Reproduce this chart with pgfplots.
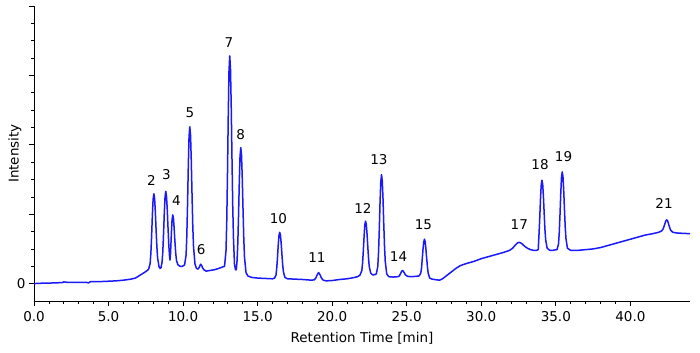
\documentclass[border=0pt]{standalone}
\usepackage{fontspec}
\setmainfont{DejaVu Sans}
\usepackage{pgfplots}
\pgfplotsset{compat=1.18}
\begin{document}
\begin{tikzpicture}
\begin{axis}[
  scale only axis, width=656bp, height=295bp,
  xmin=0, xmax=44, ymin=-0.25, ymax=4,
  axis lines*=left,
  axis line style={line width=0.7pt},
  tick style={line width=0.7pt, black},
  tick align=outside,
  major tick length=5bp, minor tick length=3bp,
  xtick={0,5,...,40}, minor x tick num=4,
  ytick={0,1,2,3,4}, yticklabels={0,,,,}, minor y tick num=3,
  /pgf/number format/assume math mode=true,
  tick label style={font=\fontsize{13.5bp}{15bp}\selectfont},
  xticklabel style={yshift=-1.5bp, /pgf/number format/.cd, fixed, fixed zerofill, precision=1},
  label style={font=\fontsize{13.5bp}{15bp}\selectfont},
  xlabel={Retention Time [min]},
  ylabel={Intensity},
  ylabel style={at={(axis description cs:-0.029,0.5)}, anchor=center},
  xlabel style={yshift=-4bp},
  clip=false,
]
\addplot[color={rgb,255:red,25;green,25;blue,250}, line width=1.5bp, line join=round] coordinates {
(0,0.0) (0.3,0.005) (1.0,0.008) (1.9,0.015) (2.0,0.025) (2.2,0.02) (3.0,0.02) (3.5,0.02) (3.65,0.01) (3.8,0.03) (4.5,0.03) (5.0,0.035) (5.5,0.04) (6.0,0.05) (6.5,0.065) (6.8,0.08) (7.1,0.12) (7.4,0.16) (7.6,0.19)
(7.69,0.21) (7.79,0.29) (7.84,0.44) (7.89,0.69) (7.94,0.99) (7.99,1.22) (8.04,1.295) (8.09,1.23) (8.14,1.03) (8.19,0.77) (8.24,0.54) (8.29,0.37) (8.39,0.24) (8.46,0.22)
(8.52,0.23) (8.59,0.31) (8.64,0.46) (8.69,0.72) (8.74,1.02) (8.79,1.25) (8.84,1.33) (8.89,1.25) (8.94,1.06) (8.99,0.8) (9.04,0.56) (9.09,0.4) (9.12,0.34)
(9.16,0.44) (9.21,0.7) (9.26,0.92) (9.31,0.99) (9.36,0.93) (9.41,0.76) (9.46,0.58) (9.51,0.43) (9.56,0.33) (9.66,0.27) (9.8,0.25) (9.95,0.25)
(10.1,0.27) (10.2,0.41) (10.25,0.69) (10.3,1.15) (10.35,1.7) (10.4,2.12) (10.45,2.26) (10.5,2.14) (10.55,1.77) (10.6,1.28) (10.65,0.83) (10.7,0.53) (10.8,0.28) (10.9,0.22) (11.0,0.21)
(11.1,0.24) (11.15,0.27) (11.19,0.28) (11.25,0.26) (11.3,0.23) (11.4,0.2) (11.55,0.18) (11.8,0.19) (12.1,0.2) (12.4,0.22) (12.65,0.24)
(12.78,0.25) (12.88,0.48) (12.93,0.91) (12.98,1.61) (13.03,2.43) (13.08,3.07) (13.13,3.28) (13.18,3.09) (13.23,2.54) (13.28,1.8) (13.33,1.12) (13.38,0.65) (13.45,0.27) (13.52,0.2)
(13.57,0.2) (13.62,0.33) (13.67,0.58) (13.72,0.99) (13.77,1.46) (13.82,1.84) (13.87,1.96) (13.92,1.85) (13.97,1.51) (14.02,1.07) (14.07,0.66) (14.12,0.38) (14.22,0.16) (14.35,0.11) (14.6,0.09) (15.0,0.08) (15.5,0.075) (16.0,0.07)
(16.13,0.08) (16.23,0.12) (16.28,0.22) (16.33,0.37) (16.38,0.55) (16.43,0.69) (16.48,0.74) (16.53,0.7) (16.58,0.58) (16.63,0.42) (16.68,0.27) (16.73,0.17) (16.83,0.09) (17.0,0.07) (17.5,0.065) (18.0,0.06) (18.6,0.05)
(18.8,0.055) (18.9,0.08) (19.0,0.13) (19.09,0.16) (19.18,0.13) (19.28,0.08) (19.4,0.05) (19.6,0.04) (20.0,0.045) (20.5,0.06) (21.0,0.07) (21.4,0.085) (21.7,0.1) (21.85,0.12)
(21.9,0.14) (21.99,0.19) (22.04,0.3) (22.09,0.48) (22.14,0.68) (22.19,0.85) (22.24,0.9) (22.29,0.85) (22.34,0.71) (22.39,0.53) (22.44,0.36) (22.49,0.24) (22.59,0.15) (22.72,0.125)
(22.86,0.13) (22.96,0.14) (23.06,0.25) (23.11,0.45) (23.16,0.78) (23.21,1.17) (23.26,1.47) (23.31,1.57) (23.36,1.48) (23.41,1.22) (23.46,0.86) (23.51,0.54) (23.56,0.32) (23.66,0.14) (23.8,0.1) (24.1,0.095) (24.4,0.1)
(24.5,0.11) (24.6,0.15) (24.66,0.18) (24.72,0.19) (24.8,0.17) (24.9,0.13) (25.05,0.105) (25.3,0.1) (25.6,0.105) (25.8,0.11)
(25.84,0.115) (25.94,0.15) (25.99,0.22) (26.04,0.35) (26.09,0.49) (26.14,0.6) (26.19,0.64) (26.24,0.6) (26.29,0.49) (26.34,0.36) (26.39,0.24) (26.44,0.15) (26.54,0.08) (26.7,0.065) (27.0,0.055) (27.2,0.05)
(27.4,0.07) (27.7,0.12) (28.0,0.17) (28.3,0.22) (28.6,0.26) (29.0,0.29) (29.5,0.32) (30.0,0.36) (30.5,0.39) (31.0,0.42) (31.5,0.45) (31.9,0.48)
(32.1,0.51) (32.3,0.56) (32.45,0.59) (32.55,0.595) (32.7,0.58) (32.9,0.54) (33.1,0.51) (33.3,0.49) (33.5,0.48) (33.7,0.48)
(33.82,0.49) (33.87,0.7) (33.92,0.93) (33.97,1.21) (34.02,1.42) (34.07,1.49) (34.12,1.43) (34.17,1.25) (34.22,1.01) (34.27,0.78) (34.32,0.63) (34.42,0.51) (34.6,0.48) (34.8,0.48) (35.05,0.49)
(35.08,0.49) (35.18,0.57) (35.23,0.73) (35.28,0.99) (35.33,1.29) (35.38,1.53) (35.43,1.61) (35.48,1.54) (35.53,1.34) (35.58,1.07) (35.63,0.82) (35.68,0.65) (35.78,0.51) (36.0,0.48)
(36.5,0.48) (37.0,0.49) (37.5,0.5) (38.0,0.52) (38.5,0.55) (39.0,0.58) (39.5,0.61) (40.0,0.64) (40.5,0.67) (41.0,0.7) (41.5,0.72) (41.9,0.74) (42.1,0.76)
(42.2,0.79) (42.3,0.85) (42.37,0.9) (42.44,0.92) (42.51,0.9) (42.6,0.83) (42.7,0.77) (42.85,0.74) (43.1,0.73) (43.5,0.725) (44.0,0.72)
};
\begin{scope}[every node/.style={font=\fontsize{13.5bp}{15bp}\selectfont, inner sep=0pt}]
\node at (axis cs:7.88,1.48) {2};
\node at (axis cs:8.89,1.57) {3};
\node at (axis cs:9.56,1.19) {4};
\node at (axis cs:10.45,2.46) {5};
\node at (axis cs:11.21,0.49) {6};
\node at (axis cs:13.08,3.48) {7};
\node at (axis cs:13.87,2.15) {8};
\node at (axis cs:16.39,0.94) {10};
\node at (axis cs:18.98,0.38) {11};
\node at (axis cs:22.06,1.08) {12};
\node at (axis cs:23.13,1.79) {13};
\node at (axis cs:24.45,0.39) {14};
\node at (axis cs:26.12,0.85) {15};
\node at (axis cs:32.55,0.85) {17};
\node at (axis cs:33.94,1.71) {18};
\node at (axis cs:35.52,1.83) {19};
\node at (axis cs:42.26,1.16) {21};
\end{scope}
\end{axis}
\pgfresetboundingbox
\path ([shift={(-34bp,-52bp)}]current axis.south west) rectangle ([shift={(10bp,6bp)}]current axis.north east);
\end{tikzpicture}
\end{document}
